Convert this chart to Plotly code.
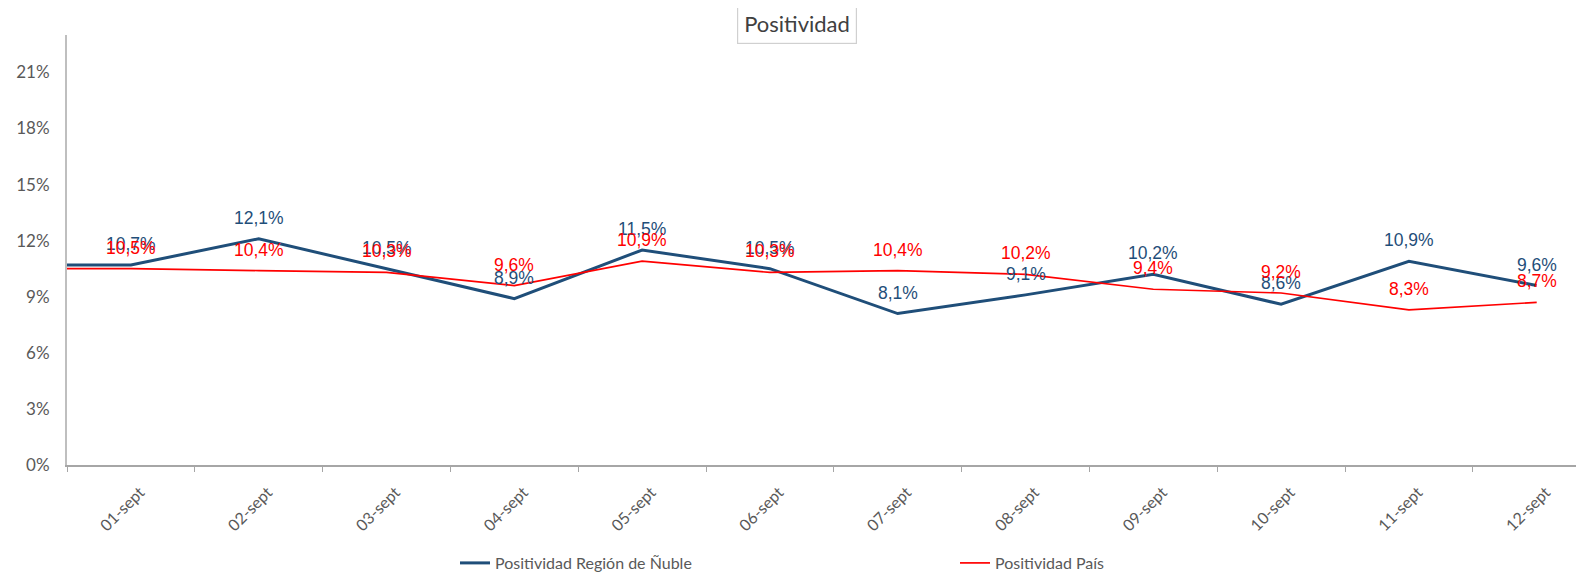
import plotly.graph_objects as go

# ---------------- data ----------------
categories = ["01-sept", "02-sept", "03-sept", "04-sept", "05-sept", "06-sept",
              "07-sept", "08-sept", "09-sept", "10-sept", "11-sept", "12-sept"]
nuble = [10.7, 12.1, 10.5, 8.9, 11.5, 10.5, 8.1, 9.1, 10.2, 8.6, 10.9, 9.6]
pais = [10.5, 10.4, 10.3, 9.6, 10.9, 10.3, 10.4, 10.2, 9.4, 9.2, 8.3, 8.7]
y_tick_vals = [0, 3, 6, 9, 12, 15, 18, 21]
series_names = ["Positividad Región de Ñuble", "Positividad País"]

# ---------------- style ----------------
BLUE = "#1F4E79"
RED = "#FF0000"
GREY_TXT = "#595959"
AX = "#BFBFBF"
X_RANGE = [-0.5, 11.37]
Y_RANGE = [0, 0.23]
LABEL_FONT = "Liberation Sans Narrow, Arial Narrow, sans-serif"
UI_FONT = "Lato, Calibri, sans-serif"

n = len(categories)
xpos = list(range(n))
# line extends to the left edge of the plot area, as in the original
x_line = [X_RANGE[0]] + xpos


def frac(v):
    return [a / 100 for a in v]


fig = go.Figure()
fig.add_trace(go.Scatter(
    x=x_line, y=frac([nuble[0]] + nuble), mode="lines", name=series_names[0],
    line=dict(color=BLUE, width=3), hoverinfo="skip"))
fig.add_trace(go.Scatter(
    x=x_line, y=frac([pais[0]] + pais), mode="lines", name=series_names[1],
    line=dict(color=RED, width=1.7), hoverinfo="skip"))

# dummy trace for the category labels on the overlaid axis
fig.add_trace(go.Scatter(x=xpos, y=[None] * n, xaxis="x2", showlegend=False,
                         mode="markers", hoverinfo="skip"))


def fmt(v):
    return f"{v:.1f}".replace(".", ",") + "%"


annotations = []
for vals, col in ((nuble, BLUE), (pais, RED)):
    for i, v in enumerate(vals):
        annotations.append(dict(
            x=i, y=v / 100, xref="x", yref="y", text=fmt(v), showarrow=False,
            yshift=21, yanchor="middle", xanchor="center",
            font=dict(family=LABEL_FONT, size=17.5, color=col)))

# title in a box
annotations.append(dict(
    x=(797 - 67) / 1517, y=1 + (35 - 24) / 430, xref="paper", yref="paper",
    text="Positividad", showarrow=False, xanchor="center", yanchor="middle",
    font=dict(family=UI_FONT, size=22, color="#404040"),
    bordercolor="#D0D0D0", borderwidth=1.2, borderpad=6, bgcolor="white"))

# the page adds an 8px body margin, so the figure is 8px smaller on each side
fig.update_layout(
    width=1576, height=568,
    margin=dict(l=59, r=0, t=27, b=111, autoexpand=False),
    paper_bgcolor="white", plot_bgcolor="white",
    showlegend=True,
    legend=dict(orientation="h", x=(455 - 67) / 1517, xanchor="left",
                y=-(98) / 430, yanchor="middle",
                font=dict(family=UI_FONT, size=16, color=GREY_TXT),
                entrywidth=455, entrywidthmode="pixels",
                itemwidth=30, bgcolor="rgba(0,0,0,0)"),
    xaxis=dict(range=X_RANGE, showgrid=False, zeroline=False, automargin=False,
               tickvals=[i - 0.5 for i in range(n + 1)],
               ticktext=[""] * (n + 1), ticks="outside", ticklen=5,
               tickcolor="#A6A6A6", tickwidth=1,
               showline=True, linecolor="#A6A6A6", linewidth=1.5),
    xaxis2=dict(range=X_RANGE, overlaying="x", anchor="y", side="bottom",
                automargin=False,
                showgrid=False, zeroline=False, showline=False,
                tickvals=xpos, ticktext=categories, ticks="",
                tickangle=-45, ticklabelstandoff=14, ticklabelshift=9,
                tickfont=dict(family=UI_FONT, size=16, color=GREY_TXT)),
    yaxis=dict(range=Y_RANGE, showgrid=False, zeroline=False, automargin=False,
               tickvals=[v / 100 for v in y_tick_vals], tickformat=".0%",
               showline=True, linecolor=AX, linewidth=2, ticks="",
               ticklabelstandoff=12,
               tickfont=dict(family=UI_FONT, size=17, color=GREY_TXT)),
    annotations=annotations,
)

fig.write_html("out.html")
